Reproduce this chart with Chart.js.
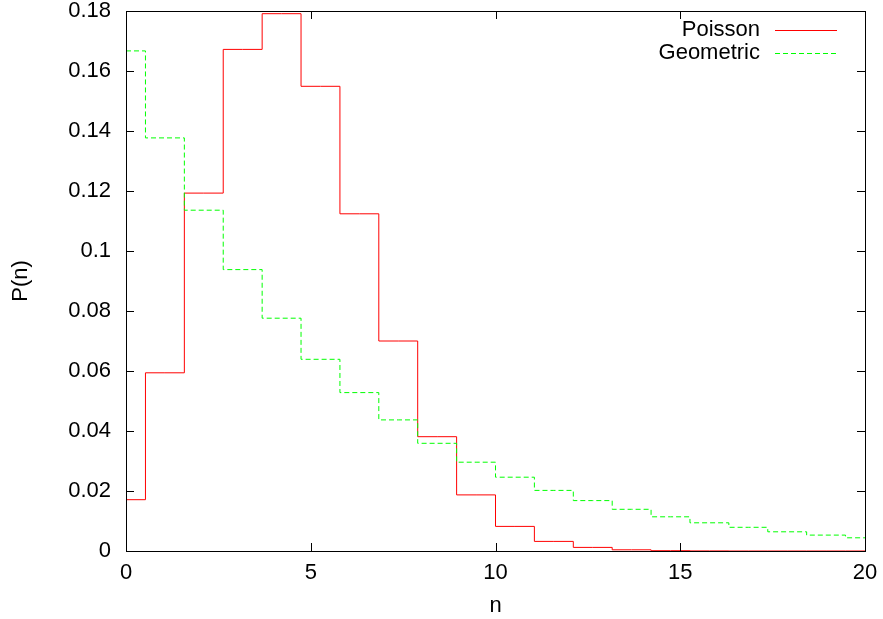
<!DOCTYPE html>
<html>
<head>
<meta charset="utf-8">
<script src="https://cdn.jsdelivr.net/npm/chart.js@4"></script>
<style>
  body { margin: 0; background: #fff; }
  #wrap { width: 883px; height: 619px; }
</style>
</head>
<body>
<div id="wrap"><canvas id="chart" width="883" height="619"></canvas></div>
<script>
// sample points along n (20 samples between 0 and 20)
const nValues = [0, 1.053, 2.105, 3.158, 4.211, 5.263, 6.316, 7.368, 8.421, 9.474,
    10.526, 11.579, 12.632, 13.684, 14.737, 15.789, 16.842, 17.895, 18.947, 20];

const poissonValues = [0.0171, 0.0594, 0.1193, 0.1672, 0.1791, 0.1549, 0.1124, 0.0700, 0.0381, 0.0187,
    0.0082, 0.0032, 0.0012, 0.0004, 0.0001, 0.00003, 0, 0, 0, 0];

const geometricValues = [0.1667, 0.1377, 0.1136, 0.0938, 0.0776, 0.0639, 0.0528, 0.0437, 0.0359, 0.0296,
    0.0246, 0.0202, 0.0168, 0.0139, 0.0114, 0.0094, 0.0079, 0.0064, 0.0053, 0.0044];

const xTicks = [0, 5, 10, 15, 20];
const yTicks = [0, 0.02, 0.04, 0.06, 0.08, 0.1, 0.12, 0.14, 0.16, 0.18];

const FONT = 'Liberation Sans, Arial, Helvetica, sans-serif';
const FONT_SIZE = 22;

function toPoints(xs, ys) {
    return xs.map((x, i) => ({ x: x, y: ys[i] }));
}

// gnuplot style frame: box border plus inward ticks on all four sides
const framePlugin = {
    id: 'frame',
    afterDatasetsDraw(chart) {
        const { ctx, chartArea: a, scales } = chart;
        const len = 8;
        ctx.save();
        ctx.strokeStyle = '#000';
        ctx.lineWidth = 1;
        ctx.beginPath();
        scales.x.ticks.forEach(t => {
            const px = Math.round(scales.x.getPixelForValue(t.value)) + 0.5;
            ctx.moveTo(px, a.bottom);
            ctx.lineTo(px, a.bottom - len);
            ctx.moveTo(px, a.top);
            ctx.lineTo(px, a.top + len);
        });
        scales.y.ticks.forEach(t => {
            const py = Math.round(scales.y.getPixelForValue(t.value)) + 0.5;
            ctx.moveTo(a.left, py);
            ctx.lineTo(a.left + len, py);
            ctx.moveTo(a.right, py);
            ctx.lineTo(a.right - len, py);
        });
        ctx.stroke();
        ctx.strokeRect(Math.round(a.left) + 0.5, Math.round(a.top) + 0.5,
            Math.round(a.right - a.left), Math.round(a.bottom - a.top));
        ctx.restore();
    }
};

// key in the top right corner, inside the frame
const keyPlugin = {
    id: 'key',
    afterDraw(chart) {
        const { ctx, chartArea: a } = chart;
        ctx.save();
        ctx.font = FONT_SIZE + 'px ' + FONT;
        ctx.textAlign = 'right';
        ctx.textBaseline = 'middle';
        chart.data.datasets.forEach((ds, i) => {
            const y = a.top + 19 + i * 23;
            ctx.fillStyle = '#000';
            ctx.fillText(ds.label, a.right - 105, y);
            ctx.strokeStyle = ds.borderColor;
            ctx.lineWidth = 1;
            ctx.setLineDash(ds.borderDash || []);
            ctx.beginPath();
            ctx.moveTo(a.right - 90, Math.round(y) + 0.5);
            ctx.lineTo(a.right - 28, Math.round(y) + 0.5);
            ctx.stroke();
        });
        ctx.restore();
    }
};

// keep the frame where the reference has it, labels may hang over the padding
function noEdgePadding(scale) {
    scale.paddingTop = 0;
    scale.paddingBottom = 0;
    scale.paddingLeft = 0;
    scale.paddingRight = 0;
}

new Chart(document.getElementById('chart'), {
    type: 'line',
    data: {
        datasets: [{
            label: 'Poisson',
            data: toPoints(nValues, poissonValues),
            borderColor: '#ff0000',
            borderWidth: 1,
            stepped: 'middle',
            pointRadius: 0,
            fill: false,
            order: 1
        }, {
            label: 'Geometric',
            data: toPoints(nValues, geometricValues),
            borderColor: '#00ff00',
            borderWidth: 1,
            borderDash: [5, 3],
            stepped: 'middle',
            pointRadius: 0,
            fill: false,
            order: 0
        }]
    },
    options: {
        responsive: false,
        animation: false,
        events: [],
        layout: { padding: { top: 11, right: 18, left: 0, bottom: 0 } },
        plugins: {
            legend: { display: false },
            tooltip: { enabled: false }
        },
        scales: {
            x: {
                type: 'linear',
                min: 0,
                max: 20,
                afterBuildTicks: scale => { scale.ticks = xTicks.map(v => ({ value: v })); },
                afterFit: scale => { scale.height = 68; noEdgePadding(scale); },
                grid: { display: false, drawTicks: false },
                border: { display: false },
                ticks: {
                    color: '#000',
                    padding: 11,
                    maxRotation: 0,
                    font: { family: FONT, size: FONT_SIZE, lineHeight: 1 },
                    callback: v => String(v)
                },
                title: {
                    display: true,
                    text: 'n',
                    color: '#000',
                    padding: { top: 0, bottom: 2 },
                    font: { family: FONT, size: FONT_SIZE, lineHeight: 1 }
                }
            },
            y: {
                type: 'linear',
                min: 0,
                max: 0.18,
                afterBuildTicks: scale => { scale.ticks = yTicks.map(v => ({ value: v })); },
                afterFit: scale => { scale.width = 126; noEdgePadding(scale); },
                grid: { display: false, drawTicks: false },
                border: { display: false },
                ticks: {
                    color: '#000',
                    padding: 15,
                    font: { family: FONT, size: FONT_SIZE, lineHeight: 1 },
                    callback: v => String(+v.toFixed(2))
                },
                title: {
                    display: true,
                    text: 'P(n)',
                    color: '#000',
                    padding: { top: 10, bottom: 0 },
                    font: { family: FONT, size: FONT_SIZE, lineHeight: 1 }
                }
            }
        }
    },
    plugins: [framePlugin, keyPlugin]
});
</script>
</body>
</html>
